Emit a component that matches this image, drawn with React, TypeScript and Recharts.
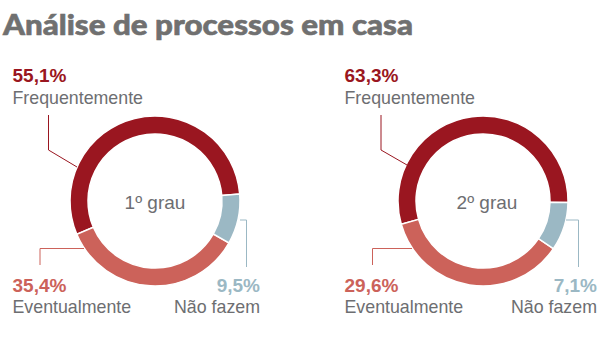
import { Pie, PieChart, Cell } from 'recharts';

const categories = ['Frequentemente', 'Eventualmente', 'Não fazem'];
const COLORS = ['#9a1620', '#cc625a', '#9bb8c4'];

// labelled values
const labels1 = ['55,1%', '35,4%', '9,5%'];
const labels2 = ['63,3%', '29,6%', '7,1%'];

// slice shares as drawn in the graphic
const shares1 = [55.1, 35.4, 9.5];
const shares2 = [54.7, 36.1, 9.2];

const TEXT = '#6d6e71';
const FONT = '"Liberation Sans", Arial, sans-serif';

function Donut({ shares, cx, start, name }: { shares: number[]; cx: number; start: number; name: string }) {
  const data = categories.map((c, i) => ({ name: c, value: shares[i] }));
  return (
    <Pie
      data={data}
      dataKey="value"
      nameKey="name"
      cx={cx}
      cy={201}
      innerRadius={67}
      outerRadius={85}
      startAngle={start}
      endAngle={start + 360}
      stroke="#fff"
      strokeWidth={1.5}
      isAnimationActive={false}
      name={name}
    >
      {data.map((d, i) => (
        <Cell key={d.name} fill={COLORS[i]} />
      ))}
    </Pie>
  );
}

function Labels({ vals, dx, center }: { vals: string[]; dx: number; center: string }) {
  const cx = 155 + dx;
  return (
    <g fontFamily={FONT}>
      <text x={cx} y={209} textAnchor="middle" fontSize={19} fill={TEXT}>{center}</text>
      <text x={12.5 + dx} y={82} fontSize={19} fontWeight="bold" fill={COLORS[0]}>{vals[0]}</text>
      <text x={12.5 + dx} y={104} fontSize={17.8} fill={TEXT}>{categories[0]}</text>
      <text x={12.5 + dx} y={292} fontSize={19} fontWeight="bold" fill={COLORS[1]}>{vals[1]}</text>
      <text x={12.5 + dx} y={313} fontSize={17.8} fill={TEXT}>{categories[1]}</text>
      <text x={260 + dx * 1.015} y={292} textAnchor="end" fontSize={19} fontWeight="bold" fill={COLORS[2]}>{vals[2]}</text>
      <text x={260 + dx * 1.015} y={313} textAnchor="end" fontSize={17.8} fill={TEXT}>{categories[2]}</text>
    </g>
  );
}

export default function App() {
  return (
    <div style={{ position: 'absolute', left: 0, top: 0, width: 600, height: 345, background: '#fff' }}>
      <PieChart width={600} height={345} margin={{ top: 0, right: 0, bottom: 0, left: 0 }}>
        <Donut shares={shares1} cx={155} start={4.7} name="1º grau" />
        <Donut shares={shares2} cx={483} start={-1} name="2º grau" />
      </PieChart>
      <svg width={600} height={345} style={{ position: 'absolute', left: 0, top: 0 }}>
        <text x={3} y={35} fontFamily="Lato, sans-serif" fontWeight={900} fontSize={28} fill="#707070" stroke="#707070" strokeWidth={0.6} textLength={410} lengthAdjust="spacingAndGlyphs">
          Análise de processos em casa
        </text>
        <Labels vals={labels1} dx={0} center="1º grau" />
        <Labels vals={labels2} dx={332} center="2º grau" />
        {/* leader lines */}
        <g fill="none" strokeWidth={1}>
          <polyline points="48.5,115 48.5,150 77,167" stroke={COLORS[0]} />
          <polyline points="40,265 40,248.5 84,248.5" stroke={COLORS[1]} />
          <polyline points="240,220 246.5,220 246.5,267" stroke={COLORS[2]} />
          <polyline points="381,115 381,150 407,165" stroke={COLORS[0]} />
          <polyline points="372.5,265 372.5,248.5 412,248.5" stroke={COLORS[1]} />
          <polyline points="566,220 578.5,220 578.5,267" stroke={COLORS[2]} />
        </g>
      </svg>
    </div>
  );
}
